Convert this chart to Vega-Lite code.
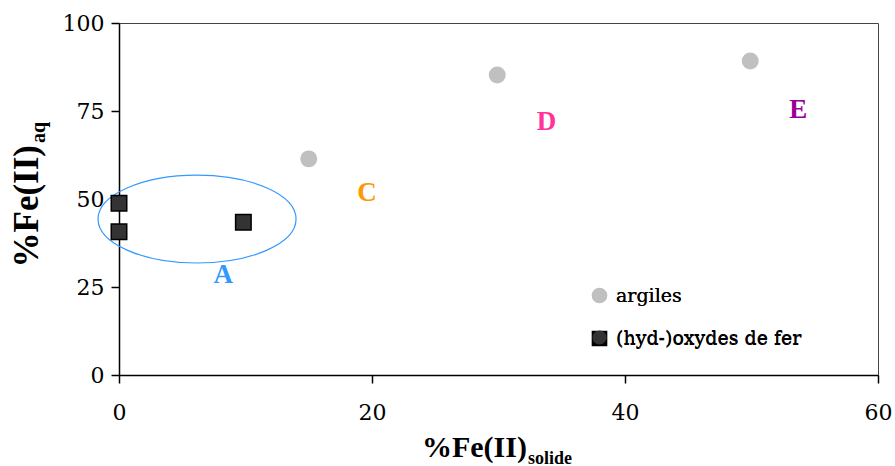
{
  "$schema": "https://vega.github.io/schema/vega-lite/v6.json",
  "width": 759,
  "height": 352,
  "autosize": {"type": "none"},
  "padding": {"left": 119, "top": 23, "right": 17, "bottom": 91},
  "background": "white",
  "config": {
    "view": {"stroke": "#444444", "strokeWidth": 1},
    "axis": {
      "labelFont": "DejaVu Serif",
      "labelFontSize": 22,
      "labelColor": "black",
      "domainColor": "black",
      "domainWidth": 1.5,
      "tickColor": "black",
      "tickWidth": 1.5,
      "tickSize": 8,
      "grid": false
    },
    "legend": {
      "labelFont": "DejaVu Serif",
      "labelFontSize": 19,
      "labelColor": "black",
      "labelLimit": 0
    }
  },
  "encoding": {
    "x": {
      "field": "x",
      "type": "quantitative",
      "scale": {"domain": [0, 60], "nice": false, "zero": false},
      "axis": {"values": [0, 20, 40, 60], "title": null, "labelPadding": 19, "labelFlush": false}
    },
    "y": {
      "field": "y",
      "type": "quantitative",
      "scale": {"domain": [0, 100], "nice": false, "zero": false},
      "axis": {"values": [0, 25, 50, 75, 100], "title": null, "labelPadding": 7}
    }
  },
  "resolve": {"scale": {"color": "independent"}},
  "layer": [
    {
      "data": {"values": [{"x": 6.17, "y": 44.3}]},
      "mark": {
        "type": "point",
        "shape": "M -1 0 A 1 0.444 0 1 1 1 0 A 1 0.444 0 1 1 -1 0 Z",
        "size": 39204,
        "filled": false,
        "stroke": "#3399FF",
        "strokeWidth": 1.2,
        "opacity": 1
      }
    },
    {
      "data": {"values": [
        {"type": "argiles", "x": 15.0, "y": 61.4},
        {"type": "argiles", "x": 29.9, "y": 85.2},
        {"type": "argiles", "x": 49.9, "y": 89.2},
        {"type": "(hyd-)oxydes de fer", "x": 0, "y": 48.8},
        {"type": "(hyd-)oxydes de fer", "x": 0, "y": 40.7},
        {"type": "(hyd-)oxydes de fer", "x": 9.83, "y": 43.4}
      ]},
      "mark": {"type": "point", "filled": true, "size": 240, "strokeWidth": 1.5, "opacity": 1},
      "encoding": {
        "shape": {
          "field": "type", "type": "nominal",
          "scale": {"domain": ["argiles", "(hyd-)oxydes de fer"], "range": ["circle", "square"]},
          "legend": {
            "title": null, "orient": "none", "legendX": 471, "legendY": 263,
            "symbolSize": 200, "rowPadding": 22, "labelOffset": 7, "symbolStrokeWidth": 1.5
          }
        },
        "color": {
          "field": "type", "type": "nominal",
          "scale": {"domain": ["argiles", "(hyd-)oxydes de fer"], "range": ["#C0C0C0", "#333333"]},
          "legend": {
            "title": null, "orient": "none", "legendX": 471, "legendY": 263,
            "symbolSize": 200, "rowPadding": 22, "labelOffset": 7, "symbolStrokeWidth": 1.5
          }
        },
        "stroke": {
          "field": "type", "type": "nominal",
          "scale": {"domain": ["argiles", "(hyd-)oxydes de fer"], "range": ["#C0C0C0", "#000000"]},
          "legend": {
            "title": null, "orient": "none", "legendX": 471, "legendY": 263,
            "symbolSize": 200, "rowPadding": 22, "labelOffset": 7, "symbolStrokeWidth": 1.5
          }
        }
      }
    },
    {
      "data": {"values": [
        {"label": "A", "x": 8.25, "y": 28.4},
        {"label": "C", "x": 19.6, "y": 51.8},
        {"label": "D", "x": 33.8, "y": 72.0},
        {"label": "E", "x": 53.7, "y": 75.3}
      ]},
      "mark": {"type": "text", "font": "Liberation Serif", "fontWeight": "bold", "fontSize": 27, "baseline": "middle", "align": "center"},
      "encoding": {
        "text": {"field": "label"},
        "color": {
          "field": "label", "type": "nominal",
          "scale": {"domain": ["A", "C", "D", "E"], "range": ["#3399FF", "#FF9900", "#FF3399", "#990099"]},
          "legend": null
        }
      }
    },
    {
      "data": {"values": [{"text": "%Fe(II)", "x": 32.25, "y": -23.3}]},
      "mark": {"type": "text", "font": "Liberation Serif", "fontWeight": "bold", "fontSize": 30, "baseline": "alphabetic", "align": "right", "color": "black"},
      "encoding": {"text": {"field": "text"}}
    },
    {
      "data": {"values": [{"text": "solide", "x": 32.33, "y": -25.3}]},
      "mark": {"type": "text", "font": "Liberation Serif", "fontWeight": "bold", "fontSize": 18, "baseline": "alphabetic", "align": "left", "color": "black"},
      "encoding": {"text": {"field": "text"}}
    },
    {
      "data": {"values": [{"text": "%Fe(II)", "x": -6.4, "y": 65.34}]},
      "mark": {"type": "text", "font": "Liberation Serif", "fontWeight": "bold", "fontSize": 35, "baseline": "alphabetic", "align": "right", "angle": 270, "color": "black"},
      "encoding": {"text": {"field": "text"}}
    },
    {
      "data": {"values": [{"text": "aq", "x": -5.85, "y": 65.9}]},
      "mark": {"type": "text", "font": "Liberation Serif", "fontWeight": "bold", "fontSize": 20, "baseline": "alphabetic", "align": "left", "angle": 270, "color": "black"},
      "encoding": {"text": {"field": "text"}}
    }
  ]
}
